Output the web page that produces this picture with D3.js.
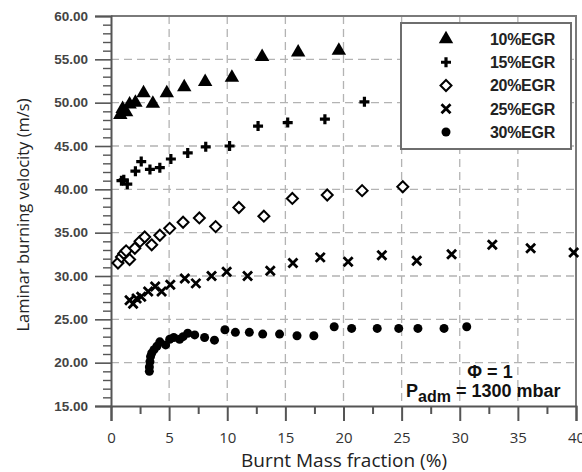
<!DOCTYPE html>
<html><head><meta charset="utf-8">
<script src="https://cdn.jsdelivr.net/npm/d3@7/dist/d3.min.js"></script>
<style>body{margin:0;background:#fff}svg{display:block}</style>
</head><body>
<svg id="c" width="582" height="472"></svg>
<script>
const xTicks = [0,5,10,15,20,25,30,35,40];
const yTicks = [15,20,25,30,35,40,45,50,55,60];
const seriesNames = ["10%EGR","15%EGR","20%EGR","25%EGR","30%EGR"];

const egr10X = [0.8,1.0,1.3,1.6,2.1,2.8,3.6,4.8,6.3,8.1,10.4,13.0,16.1,19.6];
const egr10Y = [48.6,49.3,48.9,49.8,50.0,51.1,49.9,51.1,51.8,52.4,52.9,55.3,55.8,56.0];

const egr15X = [0.9,1.1,1.4,2.1,2.6,3.35,4.2,5.15,6.6,8.15,10.2,12.65,15.2,18.4,21.8];
const egr15Y = [41.0,41.1,40.6,42.1,43.2,42.3,42.5,43.5,44.2,44.9,45.0,47.3,47.7,48.1,50.1];

const egr20X = [0.6,0.9,1.1,1.3,1.6,2.05,2.5,2.9,3.5,4.2,5.05,6.2,7.6,9.0,11.0,13.15,15.6,18.6,21.6,25.1];
const egr20Y = [31.5,32.2,32.6,32.9,31.9,33.2,34.0,34.5,33.6,34.7,35.5,36.2,36.7,35.7,37.9,36.9,38.95,39.35,39.85,40.3];

const egr25X = [1.6,1.9,2.2,2.6,3.2,3.8,4.35,5.1,6.35,7.3,8.65,9.95,11.75,13.7,15.65,18.0,20.4,23.3,26.3,29.3,32.8,36.1,39.8];
const egr25Y = [27.2,26.8,27.4,27.6,28.2,28.8,28.2,29.0,29.7,29.15,30.0,30.5,30.0,30.6,31.5,32.15,31.65,32.4,31.75,32.5,33.6,33.2,32.7];

const egr30X = [3.3,3.3,3.35,3.4,3.5,3.7,3.95,4.2,4.7,5.05,5.4,5.9,6.2,6.6,7.2,8.05,8.9,9.8,10.7,11.9,13.05,14.5,16.0,17.45,19.2,20.7,22.9,24.75,26.4,28.65,30.6];
const egr30Y = [19.0,19.5,20.1,20.7,21.1,21.5,21.9,22.4,22.05,22.7,22.9,22.7,23.0,23.4,23.2,22.9,22.6,23.8,23.5,23.5,23.3,23.3,23.1,23.1,24.15,23.95,23.95,23.95,23.95,23.95,24.15];

const svg = d3.select("#c");
const L = 111, R = 576, T = 16, B = 406;
const x = d3.scaleLinear().domain([0,40]).range([L,R]);
const y = d3.scaleLinear().domain([15,60]).range([B,T]);

// grid
const grid = svg.append("g").attr("stroke","#b3b3b3").attr("stroke-width",1.3).attr("stroke-dasharray","8,5");
xTicks.slice(1,-1).forEach(v=>grid.append("line").attr("x1",x(v)).attr("x2",x(v)).attr("y1",T).attr("y2",B));
yTicks.slice(1,-1).forEach(v=>grid.append("line").attr("y1",y(v)).attr("y2",y(v)).attr("x1",L).attr("x2",R));

// frame top/right
svg.append("path").attr("d",`M${L},${T}H${R}V${B}`).attr("fill","none").attr("stroke","#7a7a7a").attr("stroke-width",2);

// x axis
const xMinor = d3.range(2.5,40,5);
const xAx = svg.append("g").attr("transform",`translate(0,${B})`)
  .call(d3.axisBottom(x).tickValues(xTicks).tickSize(15).tickFormat(d3.format("d")));
xAx.selectAll(".tick line").attr("stroke","#555").attr("stroke-width",2);
xAx.select(".domain").attr("stroke","#555").attr("stroke-width",2);
xAx.selectAll("text").attr("font-family","'Open Sans', sans-serif").attr("font-size",15).attr("fill","#333").attr("dy","0.9em").attr("y",23);
const xAx2 = svg.append("g").attr("transform",`translate(0,${B})`)
  .call(d3.axisBottom(x).tickValues(xMinor).tickSize(8).tickFormat(""));
xAx2.select(".domain").remove();
xAx2.selectAll(".tick line").attr("stroke","#555").attr("stroke-width",2);

// y axis
const yMinor = d3.range(16,60,1).filter(v=>v%5!==0);
const yAx = svg.append("g").attr("transform",`translate(${L},0)`)
  .call(d3.axisLeft(y).tickValues(yTicks).tickSize(16).tickFormat(d3.format(".2f")));
yAx.selectAll(".tick line").attr("stroke","#555").attr("stroke-width",1.6);
yAx.select(".domain").attr("stroke","#555").attr("stroke-width",2);
yAx.selectAll("text").attr("font-family","'Liberation Sans', Arial, sans-serif").attr("font-size",13.5).attr("font-weight","bold").attr("fill","#444").attr("x",-23);
const yAx2 = svg.append("g").attr("transform",`translate(${L},0)`)
  .call(d3.axisLeft(y).tickValues(yMinor).tickSize(8).tickFormat(""));
yAx2.select(".domain").remove();
yAx2.selectAll(".tick line").attr("stroke","#555").attr("stroke-width",1.4);

// titles
svg.append("text").attr("x",344).attr("y",467).attr("text-anchor","middle")
  .attr("font-family","'Open Sans', sans-serif").attr("font-size",19).attr("fill","#222").text("Burnt Mass fraction (%)");
svg.append("text").attr("transform","translate(29,215) rotate(-90)").attr("text-anchor","middle")
  .attr("font-family","'Open Sans', sans-serif").attr("font-size",16.5).attr("fill","#222").text("Laminar burning velocity (m/s)");

// markers
function drawMarker(g, kind){
  if(kind===0) g.append("path").attr("d",d3.symbol(d3.symbolTriangle,90)()).attr("fill","#000");
  else if(kind===1) g.append("path").attr("d","M-5,0H5M0,-5V5").attr("stroke","#000").attr("stroke-width",3.2).attr("fill","none");
  else if(kind===2) g.append("path").attr("d","M0,-5.5L5.5,0L0,5.5L-5.5,0Z").attr("stroke","#000").attr("stroke-width",2).attr("fill","#fff");
  else if(kind===3) g.append("path").attr("d","M-4.5,-4.5L4.5,4.5M-4.5,4.5L4.5,-4.5").attr("stroke","#000").attr("stroke-width",2.8).attr("fill","none");
  else g.append("circle").attr("r",4.5).attr("fill","#000");
}
const allX = [egr10X,egr15X,egr20X,egr25X,egr30X];
const allY = [egr10Y,egr15Y,egr20Y,egr25Y,egr30Y];
allX.forEach((xs,k)=>{
  const pts = xs.map((v,i)=>[v,allY[k][i]]);
  svg.append("g").selectAll("g").data(pts).join("g")
    .attr("transform",d=>`translate(${x(d[0])},${y(d[1])})`)
    .each(function(){drawMarker(d3.select(this),k);});
});

// legend
svg.append("rect").attr("x",401).attr("y",23).attr("width",170).attr("height",126)
  .attr("fill","#fff").attr("stroke","#6e6e6e").attr("stroke-width",2);
const legY = d3.scalePoint().domain(seriesNames).range([39,132]);
seriesNames.forEach((n,k)=>{
  const g = svg.append("g").attr("transform",`translate(446,${legY(n)})`);
  drawMarker(g,k);
  svg.append("text").attr("x",490).attr("y",legY(n)).attr("dy","0.36em")
    .attr("font-family","'Liberation Sans', Arial, sans-serif").attr("font-weight","bold").attr("font-size",16).attr("letter-spacing",-0.3).attr("fill","#222").text(n);
});

// annotation
svg.append("text").attr("x",490).attr("y",378).attr("text-anchor","middle")
  .attr("font-family","'Liberation Sans', Arial, sans-serif").attr("font-weight","bold").attr("font-size",18).attr("fill","#111").text("Φ = 1");
const t2 = svg.append("text").attr("x",406).attr("y",397)
  .attr("font-family","'Liberation Sans', Arial, sans-serif").attr("font-weight","bold").attr("font-size",18).attr("fill","#111");
t2.append("tspan").text("P");
t2.append("tspan").attr("font-size",16).attr("dy",5).text("adm");
t2.append("tspan").attr("dy",-5).text(" = 1300 mbar");
</script>
</body></html>
